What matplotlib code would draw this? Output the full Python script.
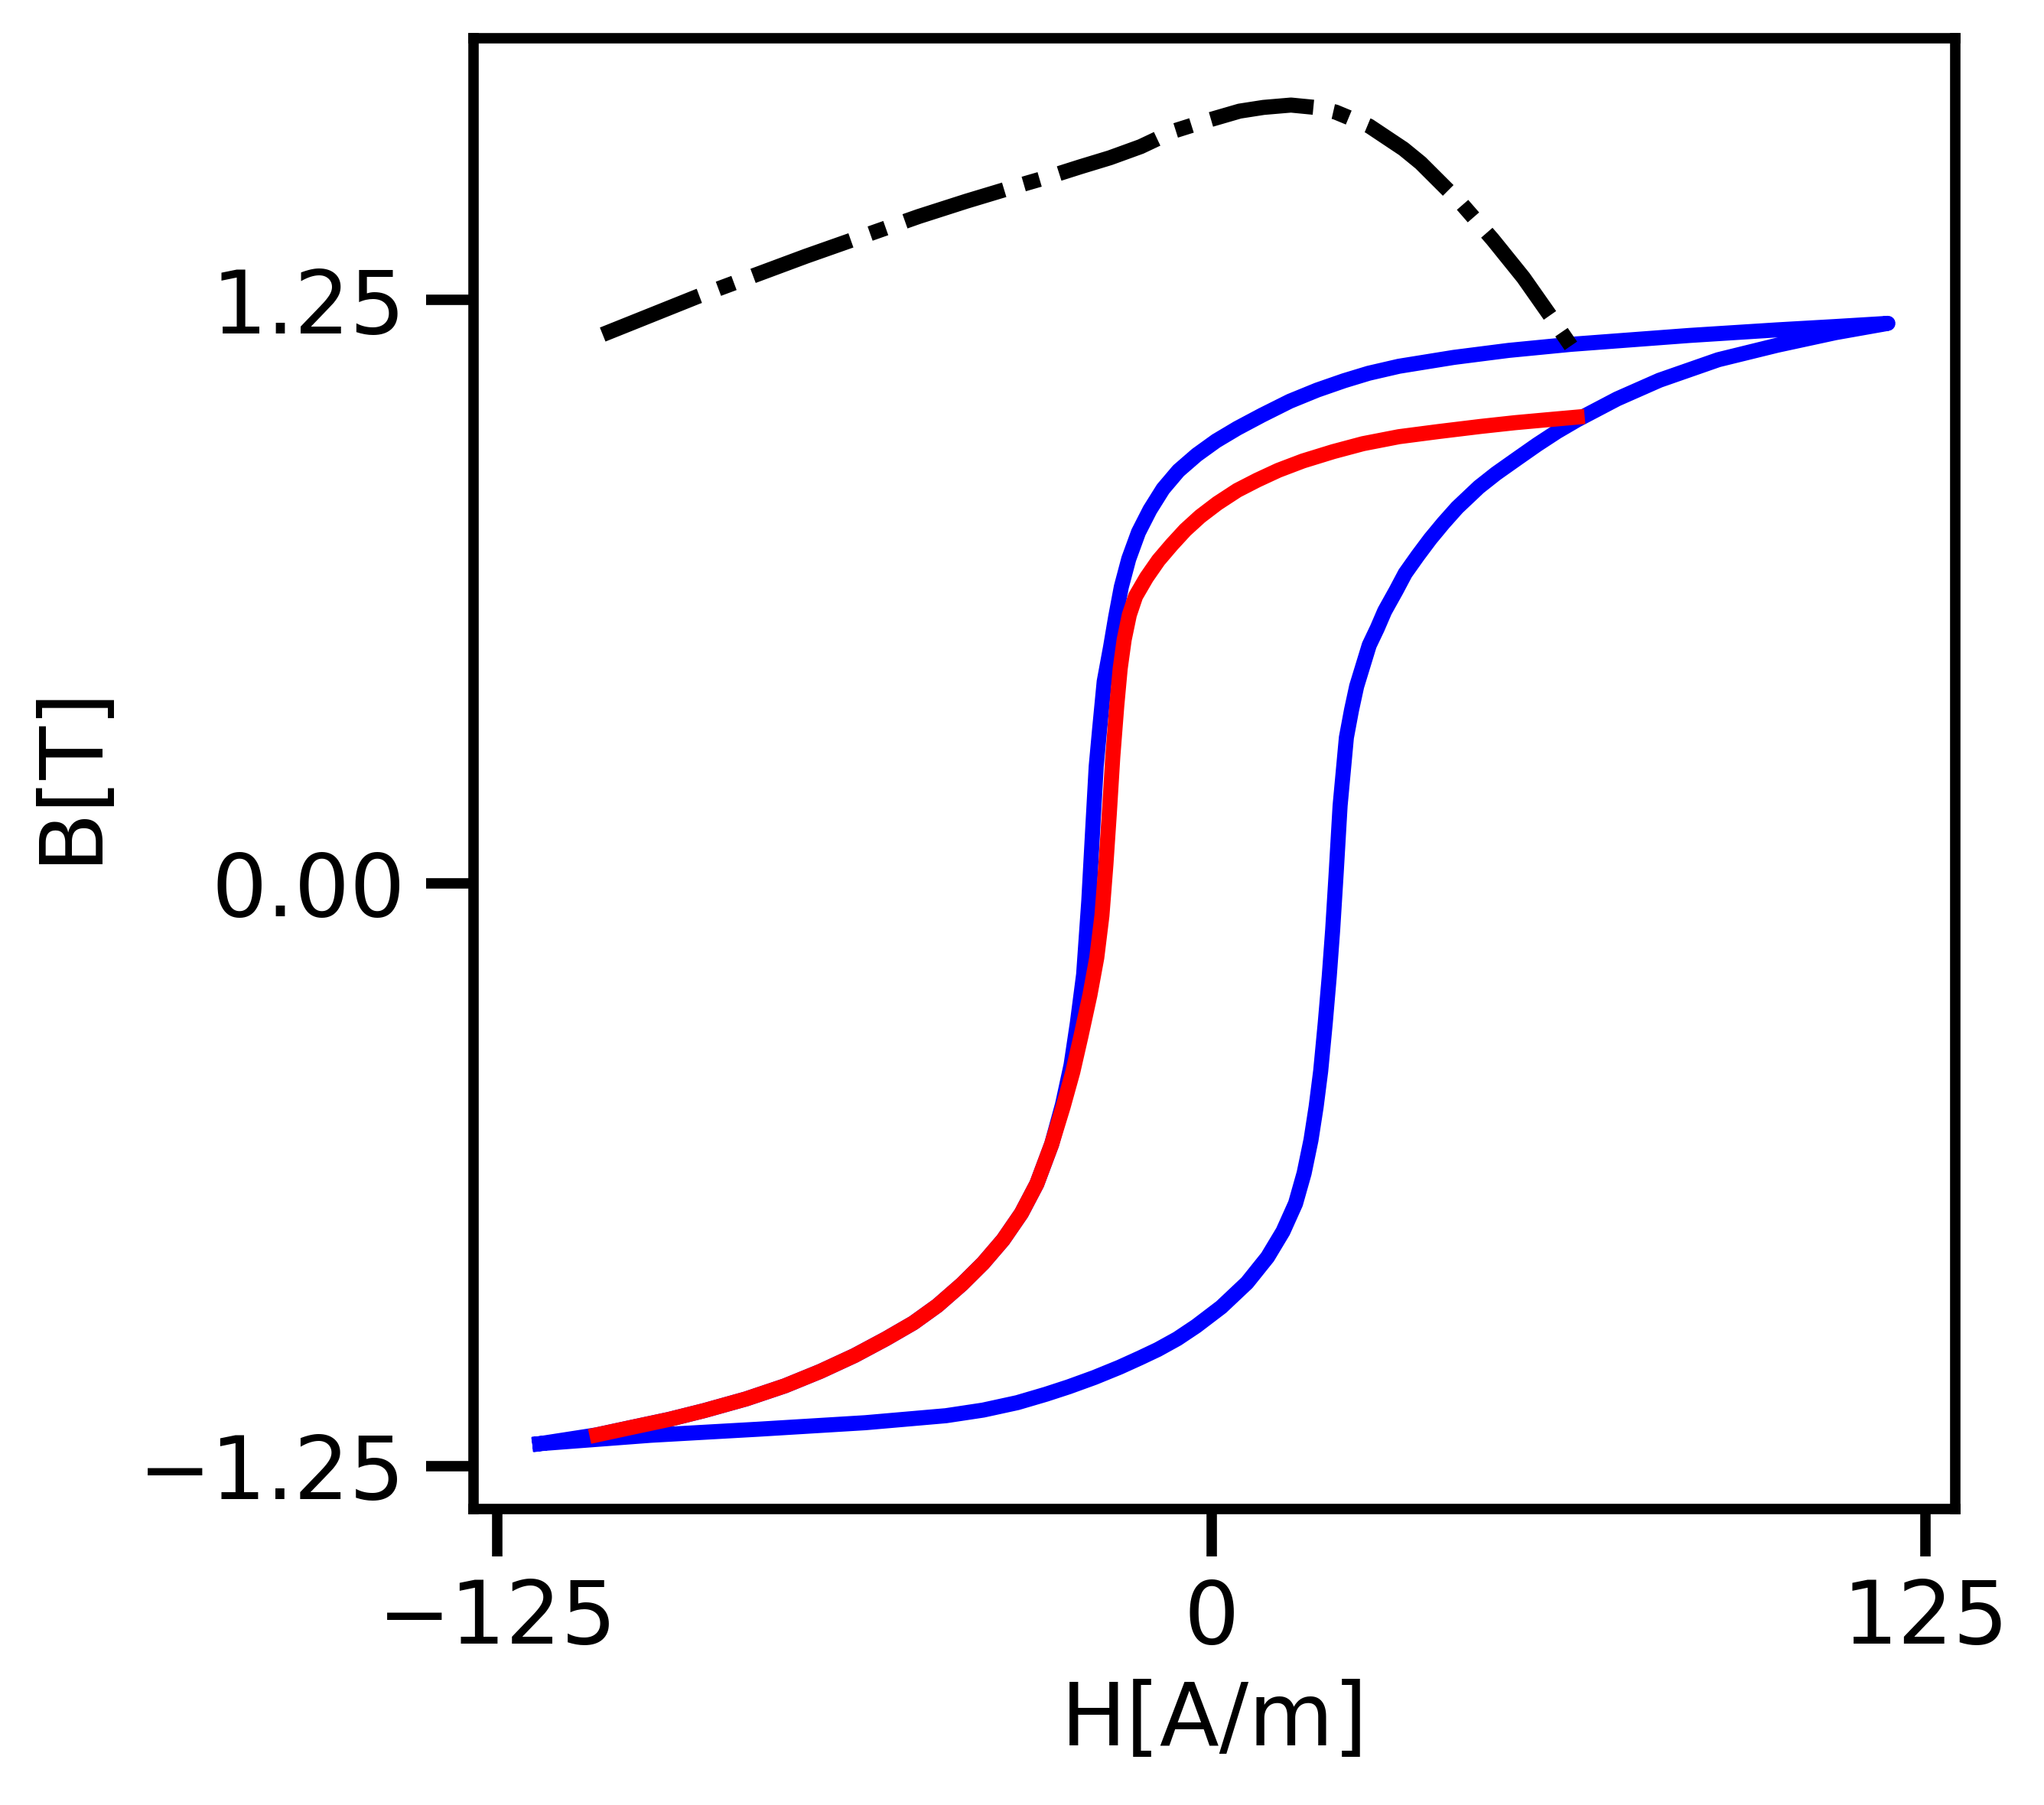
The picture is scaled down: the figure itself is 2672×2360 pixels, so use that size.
import numpy as np
import matplotlib
matplotlib.use('Agg')
import matplotlib.pyplot as plt

# 主磁滞回线 - 上升支 (下支, 从左下到右上)
asc_h = [-117.6, -98.2, -79.4, -60.6, -46.5, -40.0, -34.0, -29.0, -25.0, -20.5,
         -16.1, -12.5, -9.4, -6.0, -2.7, 1.7, 6.2, 9.8, 12.5, 14.7,
         16.2, 17.4, 18.3, 19.1, 19.9, 20.6, 21.2, 21.8, 22.5, 23.6,
         24.5, 25.4, 26.5, 27.6, 29.0, 30.3, 32.3, 33.9, 36.1, 38.3,
         40.6, 43.0, 46.8, 49.8, 53.5, 57.0, 60.5, 64.0, 71.0, 78.4,
         88.7, 99.0, 109.2, 118.4]
asc_b = [-1.202, -1.184, -1.171, -1.157, -1.142, -1.130, -1.114, -1.096, -1.080, -1.060,
         -1.038, -1.018, -1.000, -0.977, -0.950, -0.909, -0.857, -0.802, -0.747, -0.687,
         -0.622, -0.551, -0.480, -0.403, -0.300, -0.200, -0.100, 0.019, 0.166, 0.312,
         0.371, 0.422, 0.466, 0.510, 0.546, 0.583, 0.627, 0.664, 0.702, 0.738,
         0.772, 0.805, 0.849, 0.878, 0.910, 0.940, 0.968, 0.993, 1.038, 1.078,
         1.122, 1.153, 1.180, 1.200]

# 主磁滞回线 - 下降支 (上支, 从右上回到左下)
desc_h = [109.0, 99.0, 83.6, 62.9, 52.0, 42.4, 32.8, 27.5, 23.2, 18.5,
          13.7, 8.8, 4.5, 0.8, -2.6, -5.8, -8.5, -10.8, -12.8, -14.5,
          -15.8, -16.8, -17.7, -18.8, -19.6, -20.2, -20.8, -21.5, -22.4, -23.5,
          -24.6, -26.1, -28.0, -30.6, -33.3, -36.5, -40.0, -43.7, -48.0, -52.2,
          -57.0, -62.5, -68.5, -74.7, -81.5, -88.8, -95.0, -101.9, -107.6, -117.6]
desc_b = [1.193, 1.186, 1.174, 1.155, 1.142, 1.127, 1.108, 1.093, 1.077, 1.057,
          1.033, 1.003, 0.975, 0.948, 0.918, 0.884, 0.845, 0.800, 0.752, 0.695,
          0.635, 0.570, 0.505, 0.432, 0.330, 0.250, 0.118, -0.039, -0.196, -0.300,
          -0.390, -0.475, -0.560, -0.645, -0.708, -0.765, -0.815, -0.860, -0.906, -0.943,
          -0.977, -1.013, -1.047, -1.078, -1.106, -1.131, -1.150, -1.168, -1.183, -1.202]

# 小回线 (红色)
minor_h = [-107.6, -101.9, -95.0, -88.8, -81.5, -74.7, -68.5, -62.5, -57.0, -52.2,
           -48.0, -43.7, -40.0, -36.5, -33.3, -30.6, -28.0, -26.0, -24.3, -22.9,
           -21.3, -20.1, -19.2, -18.5, -17.9, -17.3, -16.6, -16.0, -15.3, -14.4,
           -13.3, -11.4, -9.3, -7.0, -4.6, -2.0, 1.0, 4.5, 8.0, 11.7,
           16.0, 21.3, 26.5, 32.8, 39.7, 47.1, 53.1, 58.5, 64.0]
minor_b = [-1.183, -1.168, -1.150, -1.131, -1.106, -1.078, -1.047, -1.013, -0.977, -0.943,
           -0.906, -0.860, -0.815, -0.765, -0.708, -0.645, -0.560, -0.480, -0.405, -0.330,
           -0.240, -0.160, -0.070, 0.040, 0.150, 0.270, 0.380, 0.460, 0.522, 0.575,
           0.615, 0.655, 0.692, 0.725, 0.757, 0.786, 0.814, 0.842, 0.864, 0.885,
           0.905, 0.925, 0.942, 0.957, 0.968, 0.979, 0.987, 0.993, 0.999]

# 初始曲线 (黑色点划线)
init_h = [-106.6, -90.1, -71.0, -51.3, -42.9, -34.5, -28.3, -22.9, -17.8, -12.4,
          -6.7, -1.0, 4.9, 9.1, 13.9, 18.1, 21.7, 27.6, 33.6, 36.6,
          43.8, 49.2, 54.6, 59.3, 63.0]
init_b = [1.176, 1.257, 1.344, 1.429, 1.462, 1.493, 1.515, 1.536, 1.555, 1.579,
          1.612, 1.634, 1.655, 1.663, 1.668, 1.663, 1.653, 1.623, 1.574, 1.544,
          1.456, 1.380, 1.298, 1.216, 1.150]

loop_h = np.concatenate([asc_h, desc_h])
loop_b = np.concatenate([asc_b, desc_b])

fs = 20.5
lw = 3.55

fig = plt.figure(figsize=(6.68, 5.9), dpi=400)
ax = fig.add_axes([0.2317, 0.164, 0.7249, 0.815])

ax.plot(loop_h, loop_b, color='blue', lw=lw)
ax.plot(minor_h, minor_b, color='red', lw=lw)
ax.plot(init_h, init_b, color='black', lw=lw, linestyle=(0, (6.9, 1.35, 1.1, 1.35)))

ax.set_xlim(-129.2, 130.2)
ax.set_ylim(-1.342, 1.812)
ax.set_xticks([-125, 0, 125])
ax.set_yticks([-1.25, 0, 1.25])
ax.set_xlabel('H[A/m]', fontsize=fs, labelpad=4)
ax.set_ylabel('B[T]', fontsize=fs, labelpad=6)
ax.tick_params(labelsize=fs, length=11.2, width=2.45, pad=4.8)
for s in ax.spines.values():
    s.set_linewidth(2.45)

fig.savefig('out.png', dpi=400)
